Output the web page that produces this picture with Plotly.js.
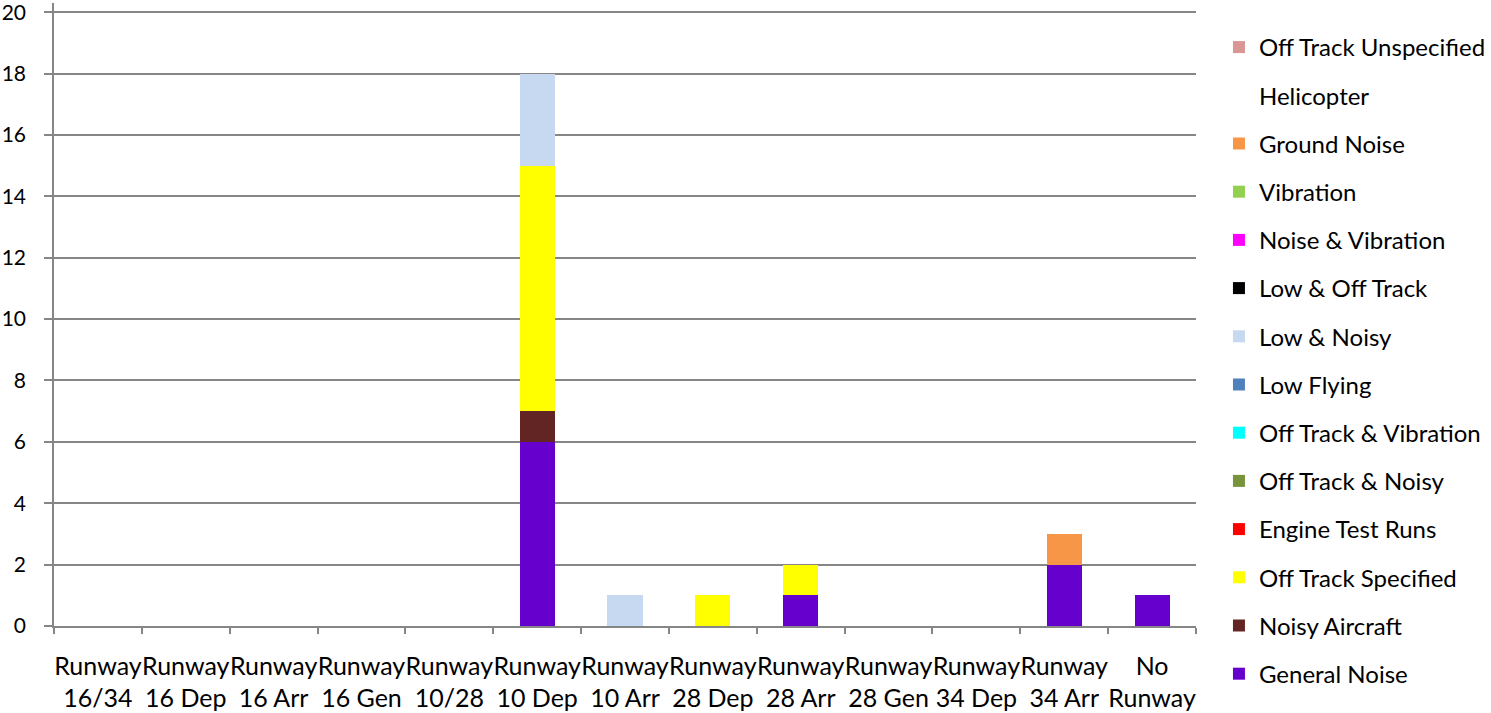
<!DOCTYPE html>
<html>
<head>
<meta charset="utf-8">
<script src="https://cdn.plot.ly/plotly-3.0.1.min.js"></script>
<style>html,body{margin:0;padding:0;background:#fff;}#chart{width:1491px;height:713px;}</style>
</head>
<body>
<div id="chart"></div>
<script>
const categories = ["Runway<br>16/34","Runway<br>16 Dep","Runway<br>16 Arr","Runway<br>16 Gen","Runway<br>10/28","Runway<br>10 Dep","Runway<br>10 Arr","Runway<br>28 Dep","Runway<br>28 Arr","Runway<br>28 Gen","Runway<br>34 Dep","Runway<br>34 Arr","No<br>Runway"];

const seriesNames = ["General Noise","Noisy Aircraft","Off Track Specified","Engine Test Runs","Off Track & Noisy","Off Track & Vibration","Low Flying","Low & Noisy","Low & Off Track","Noise & Vibration","Vibration","Ground Noise","Helicopter","Off Track Unspecified"];
const seriesColors = ["#6600cc","#632523","#ffff00","#ff0000","#77933c","#00ffff","#4f81bd","#c6d9f1","#000000","#ff00ff","#92d050","#f79646","#ffffff","#d99694"];

const generalNoise       = [0,0,0,0,0,6,0,0,1,0,0,2,1];
const noisyAircraft      = [0,0,0,0,0,1,0,0,0,0,0,0,0];
const offTrackSpecified  = [0,0,0,0,0,8,0,1,1,0,0,0,0];
const engineTestRuns     = [0,0,0,0,0,0,0,0,0,0,0,0,0];
const offTrackNoisy      = [0,0,0,0,0,0,0,0,0,0,0,0,0];
const offTrackVibration  = [0,0,0,0,0,0,0,0,0,0,0,0,0];
const lowFlying          = [0,0,0,0,0,0,0,0,0,0,0,0,0];
const lowNoisy           = [0,0,0,0,0,3,1,0,0,0,0,0,0];
const lowOffTrack        = [0,0,0,0,0,0,0,0,0,0,0,0,0];
const noiseVibration     = [0,0,0,0,0,0,0,0,0,0,0,0,0];
const vibration          = [0,0,0,0,0,0,0,0,0,0,0,0,0];
const groundNoise        = [0,0,0,0,0,0,0,0,0,0,0,1,0];
const helicopter         = [0,0,0,0,0,0,0,0,0,0,0,0,0];
const offTrackUnspecified= [0,0,0,0,0,0,0,0,0,0,0,0,0];

const yTicks = [0,2,4,6,8,10,12,14,16,18,20];

const seriesValues = [generalNoise,noisyAircraft,offTrackSpecified,engineTestRuns,offTrackNoisy,offTrackVibration,lowFlying,lowNoisy,lowOffTrack,noiseVibration,vibration,groundNoise,helicopter,offTrackUnspecified];

const FONT = "Lato, 'Open Sans', sans-serif";

const traces = seriesNames.map((name,i)=>({
  type:'bar', name:name, x:categories, y:seriesValues[i],
  marker:{color:seriesColors[i], line:{width:0}},
  legendgroup:'g'+i, legendrank: 100 - i, hoverinfo:'x+y+name'
}));

const layout = {
  width:1491, height:713,
  margin:{l:54, r:295, t:3, b:87, pad:0, autoexpand:false},
  paper_bgcolor:'#ffffff', plot_bgcolor:'#ffffff',
  barmode:'stack', bargap:0.6,
  font:{family:FONT, size:24, color:'#000000'},
  showlegend:true,
  legend:{x:1.0201, xanchor:'left', y:0.9647, yanchor:'top', traceorder:'grouped', tracegroupgap:14,
          maxheight:713,
          font:{family:FONT, size:24, color:'#000'}, bgcolor:'rgba(0,0,0,0)', itemclick:false, itemwidth:30},
  xaxis:{type:'category', tickson:'boundaries', ticks:'outside', ticklen:6, tickcolor:'#868686', tickwidth:1.5,
         tickangle:0,
         showline:true, linecolor:'#868686', linewidth:1.5, showgrid:false, zeroline:false,
         ticklabelstandoff:17,
         tickfont:{family:FONT, size:25, color:'#000'}, fixedrange:true},
  yaxis:{range:[0,20.3], tickvals:yTicks, ticks:'outside', ticklen:8, tickcolor:'#868686', tickwidth:1.5,
         showline:true, linecolor:'#868686', linewidth:1.5, showgrid:true, gridcolor:'#868686', gridwidth:1.5,
         zeroline:false, ticklabelstandoff:14, ticklabeloverflow:'allow',
         tickfont:{family:FONT, size:21, color:'#000'}, fixedrange:true}
};

Plotly.newPlot('chart', traces, layout, {displayModeBar:false});
</script>
</body>
</html>
